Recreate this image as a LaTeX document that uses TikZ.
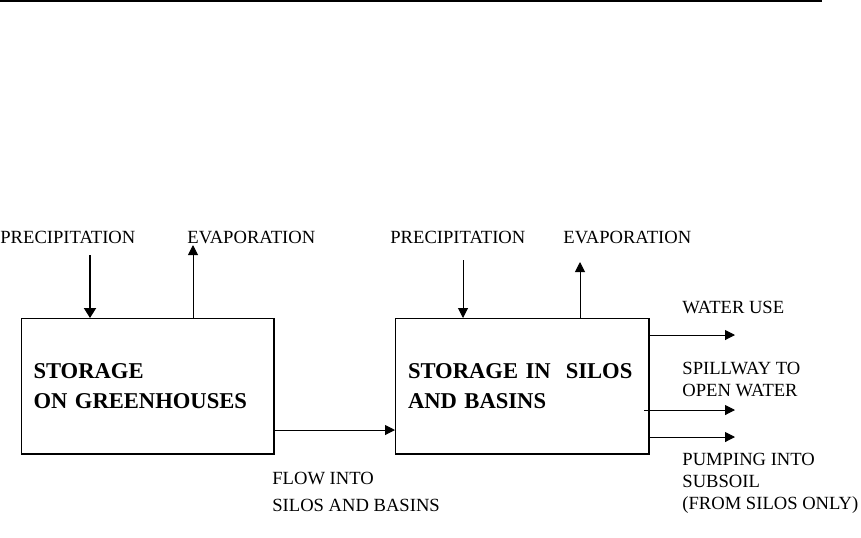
\documentclass[tikz,border=0pt]{standalone}
\usepackage{fontspec}
\setmainfont{Liberation Serif}
\usetikzlibrary{arrows.meta,positioning,calc}
\tikzset{
  storebox/.style={draw=black, line width=0.5pt, anchor=north west,
    minimum width=126pt, minimum height=67.5pt, text width=114pt,
    inner xsep=6pt, align=left, font=\fontsize{11.3}{15}\selectfont\bfseries},
  flowlbl/.style={anchor=west, inner sep=0pt, align=left,
    font=\fontsize{9.3}{11}\selectfont},
  flowarr/.style={-{Triangle[length=5pt, width=5pt]}, line width=0.5pt},
  shadowedge/.style={line width=1.1pt},
}

\begin{document}
\begin{tikzpicture}[x=0.5pt, y=-0.5pt]
  \useasboundingbox (0,0) rectangle (861,537);

  %% ---- top rule ----
  \draw[line width=1pt] (0,1) -- (822,1);

  %% ---- storage boxes ----
  \node[storebox] (gh) at (21,318) {STORAGE\\ON GREENHOUSES};
  \node[storebox, minimum width=126.5pt] (sb) at (395,318) {STORAGE IN\ \ SILOS\\AND BASINS};
  \draw[shadowedge] (gh.north east) -- (gh.south east) -- (gh.south west);
  \draw[shadowedge] (sb.north east) -- (sb.south east) -- (sb.south west);

  %% ---- labels ----
  \node[flowlbl] (prec1) at (0,237)   {PRECIPITATION};
  \node[flowlbl] (evap1) at (187,237) {EVAPORATION};
  \node[flowlbl] (prec2) at (390,237) {PRECIPITATION};
  \node[flowlbl] (evap2) at (563,237) {EVAPORATION};
  \node[flowlbl] (use)   at (682,307) {WATER USE};
  \node[flowlbl] (spill) at (682,379) {SPILLWAY TO\\OPEN WATER};
  \node[flowlbl, font=\fontsize{9.3}{13.5}\selectfont] (flow) at (272,491.5)
    {FLOW INTO\\SILOS AND BASINS};
  \node[flowlbl] (pump)  at (682,483.5) {PUMPING INTO\\SUBSOIL\\(FROM SILOS ONLY)};

  %% free ends of the flows
  \coordinate (pin1)     at (90,255);
  \coordinate (pout1)    at (193,245);
  \coordinate (pin2)     at (463,260);
  \coordinate (pout2)    at (580,262);
  \coordinate (useend)   at (735,335);
  \coordinate (spillend) at (735,410);
  \coordinate (pumpend)  at (735,437);

  %% ---- flows ----
  \draw[flowarr, line width=1pt, -{Triangle[length=5pt, width=6pt]}] (pin1) -- (pin1 |- gh.north);
  \draw[flowarr] (gh.north -| pout1) -- (pout1);
  \draw[flowarr] (pin2) -- (pin2 |- sb.north);
  \draw[flowarr] (sb.north -| pout2) -- (pout2);
  \draw[flowarr] (gh.east |- 0,430) -- (sb.west |- 0,430);
  \draw[flowarr] (sb.east |- useend) -- (useend);
  \draw[flowarr] ($(sb.east |- spillend)+(-5,0)$) -- (spillend);
  \draw[flowarr] (sb.east |- pumpend) -- (pumpend);

\end{tikzpicture}
\end{document}
